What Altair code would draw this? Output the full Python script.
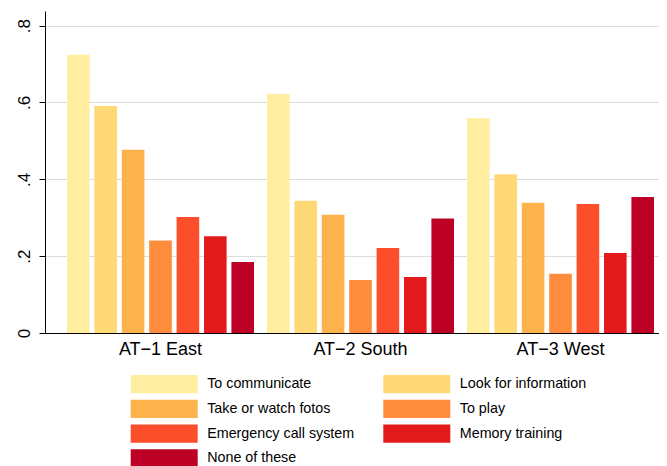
import altair as alt
import pandas as pd

regions = ["AT\u22121 East", "AT\u22122 South", "AT\u22123 West"]
categories = ["To communicate", "Look for information", "Take or watch fotos", "To play",
              "Emergency call system", "Memory training", "None of these"]
colors = ["#ffeda0", "#fed976", "#feb24c", "#fd8d3c", "#fc4e2a", "#e31a1c", "#bd0026"]
east = [0.724, 0.591, 0.477, 0.241, 0.302, 0.252, 0.185]
south = [0.622, 0.344, 0.308, 0.138, 0.221, 0.146, 0.298]
west = [0.559, 0.413, 0.339, 0.154, 0.336, 0.208, 0.354]
y_ticks = [0, 0.2, 0.4, 0.6, 0.8]

rows = []
for reg, vals in zip(regions, [east, south, west]):
    for cat, v in zip(categories, vals):
        rows.append({"region": reg, "category": cat, "value": v})
df = pd.DataFrame(rows)

leg_df = pd.DataFrame({
    "category": categories,
    "col": [i % 2 for i in range(len(categories))],
    "row": [i // 2 for i in range(len(categories))],
})

color_scale = alt.Scale(domain=categories, range=colors)

bars = alt.Chart(df).mark_bar().encode(
    x=alt.X("region:N", sort=regions,
            scale=alt.Scale(paddingInner=0.065, paddingOuter=0.0675, align=0.815),
            axis=alt.Axis(title=None, labelAngle=0, ticks=False, labelFontSize=18,
                          labelPadding=7, domainColor="black", labelColor="black",
                          grid=False)),
    xOffset=alt.XOffset("category:N", sort=categories,
                        scale=alt.Scale(paddingInner=0.175, paddingOuter=0)),
    y=alt.Y("value:Q", scale=alt.Scale(domain=[0, 0.838], nice=False, zero=True),
            axis=alt.Axis(title=None, values=y_ticks,
                          labelExpr="datum.value == 0 ? '0' : replace(format(datum.value, '.1f'), '0.', '.')",
                          labelAngle=270, labelAlign="center", labelBaseline="alphabetic",
                          labelFontSize=17, labelPadding=10, labelColor="black",
                          tickSize=6, tickColor="black", domainColor="black",
                          grid=True, gridColor="#dcdcdc", gridWidth=1)),
    color=alt.Color("category:N", sort=categories, scale=color_scale, legend=None),
)

leg_x = alt.X("col:Q", scale=alt.Scale(domain=[0, 1], range=[119.2, 371.8]), axis=None)
leg_y = alt.Y("row:Q", scale=alt.Scale(domain=[0, 3], range=[373.2, 447.3]), axis=None)

swatches = alt.Chart(leg_df).mark_point(
    shape="M-1,-0.273H1V0.273H-1Z", size=4489, filled=True, opacity=1, strokeWidth=0
).encode(
    x=leg_x, y=leg_y,
    color=alt.Color("category:N", sort=categories, scale=color_scale, legend=None),
)

labels = alt.Chart(leg_df).mark_text(
    align="left", baseline="middle", dx=43, fontSize=14.3, color="black"
).encode(x=leg_x, y=leg_y, text="category:N")

chart = alt.layer(bars, swatches, labels).resolve_scale(
    x="independent", y="independent"
).properties(
    width=614, height=322,
    autosize=alt.AutoSizeParams(type="none"),
    padding={"left": 37, "top": 3, "right": 0, "bottom": 133},
).configure(font="Liberation Sans").configure_view(stroke=None)

chart.save("out.html", embed_options={"renderer": "svg", "actions": False})
